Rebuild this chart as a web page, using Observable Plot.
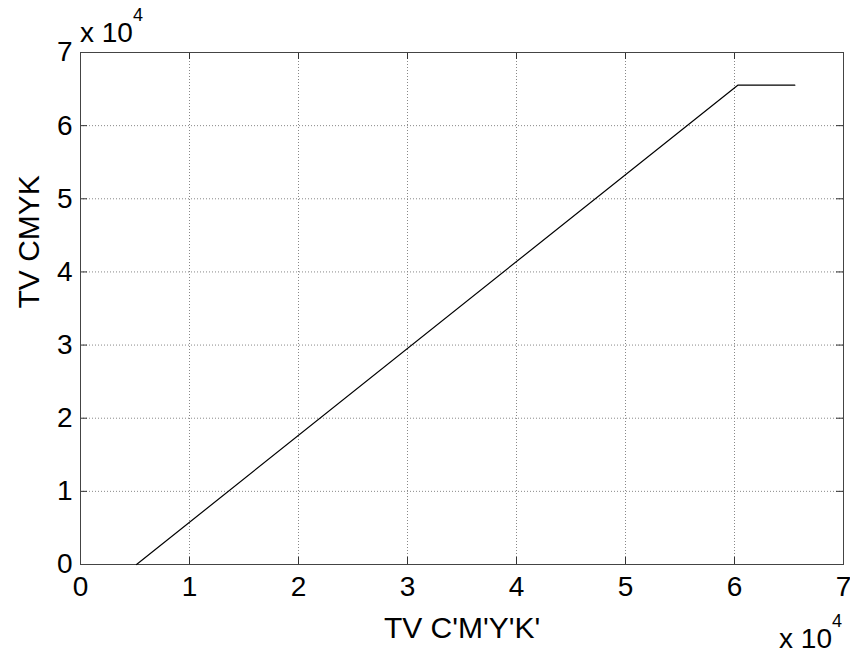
<!DOCTYPE html>
<html><head><meta charset="utf-8">
<script src="https://cdn.jsdelivr.net/npm/d3@7"></script>
<script src="https://cdn.jsdelivr.net/npm/@observablehq/plot@0.6"></script>
<style>body{margin:0;background:#fff}</style>
</head><body><div id="chart"></div>
<script>
const xValues = [5140, 60300, 65535];
const yValues = [0, 65535, 65535];
const xTicks = [0, 1, 2, 3, 4, 5, 6, 7];
const yTicks = [0, 1, 2, 3, 4, 5, 6, 7];
const xLabel = "TV C'M'Y'K'";
const yLabel = "TV CMYK";
const exponent = "4";

const W = 850, H = 653, mL = 80, mR = 7, mT = 52, mB = 89;
const plotH = H - mT - mB, plotW = W - mL - mR;
const data = xValues.map((x, i) => ({x: x / 1e4, y: yValues[i] / 1e4}));
const font = "Liberation Sans, Arial, Helvetica, sans-serif";

const chart = Plot.plot({
  width: W, height: H,
  marginLeft: mL, marginRight: mR, marginTop: mT, marginBottom: mB,
  style: {fontFamily: font, fontSize: "28px", background: "#fff", color: "#000"},
  x: {domain: [0, 7], label: null},
  y: {domain: [0, 7], label: null},
  marks: [
    Plot.gridX(xTicks.slice(1, -1), {stroke: "#888", strokeOpacity: 1, strokeDasharray: "1,2"}),
    Plot.gridY(yTicks.slice(1, -1), {stroke: "#888", strokeOpacity: 1, strokeDasharray: "1,2"}),
    Plot.tickX(xTicks, {x: d => d, insetTop: plotH - 7, stroke: "#333"}),
    Plot.tickX(xTicks, {x: d => d, insetBottom: plotH - 7, stroke: "#333"}),
    Plot.tickY(yTicks, {y: d => d, insetRight: plotW - 7, stroke: "#333"}),
    Plot.tickY(yTicks, {y: d => d, insetLeft: plotW - 7, stroke: "#333"}),
    Plot.frame({stroke: "#444"}),
    Plot.axisX(xTicks, {tickSize: 0, tickPadding: 12, fontSize: 28, label: null, tickFormat: d3.format("d")}),
    Plot.axisY(yTicks, {tickSize: 0, tickPadding: 8, fontSize: 28, label: null, tickFormat: d3.format("d")}),
    Plot.line(data, {x: "x", y: "y", stroke: "#000", strokeWidth: 1.2}),
    Plot.text([xLabel], {frameAnchor: "bottom", dy: 73, fontSize: 30, lineAnchor: "bottom"}),
    Plot.text([yLabel], {frameAnchor: "left", dx: -42, rotate: -90, fontSize: 30, lineAnchor: "bottom"})
  ]
});
document.getElementById("chart").appendChild(chart);

const svg = d3.select(chart);
function addExp(x, y, anchor) {
  const t = svg.append("text").attr("x", x).attr("y", y)
    .attr("text-anchor", anchor).attr("font-family", font).attr("font-size", 28).attr("fill", "#000");
  t.append("tspan").text("x 10");
  t.append("tspan").attr("dy", -21).attr("font-size", 18).text(exponent);
}
addExp(mL, 42, "start");
addExp(W - 8, 648, "end");
</script>
</body></html>
